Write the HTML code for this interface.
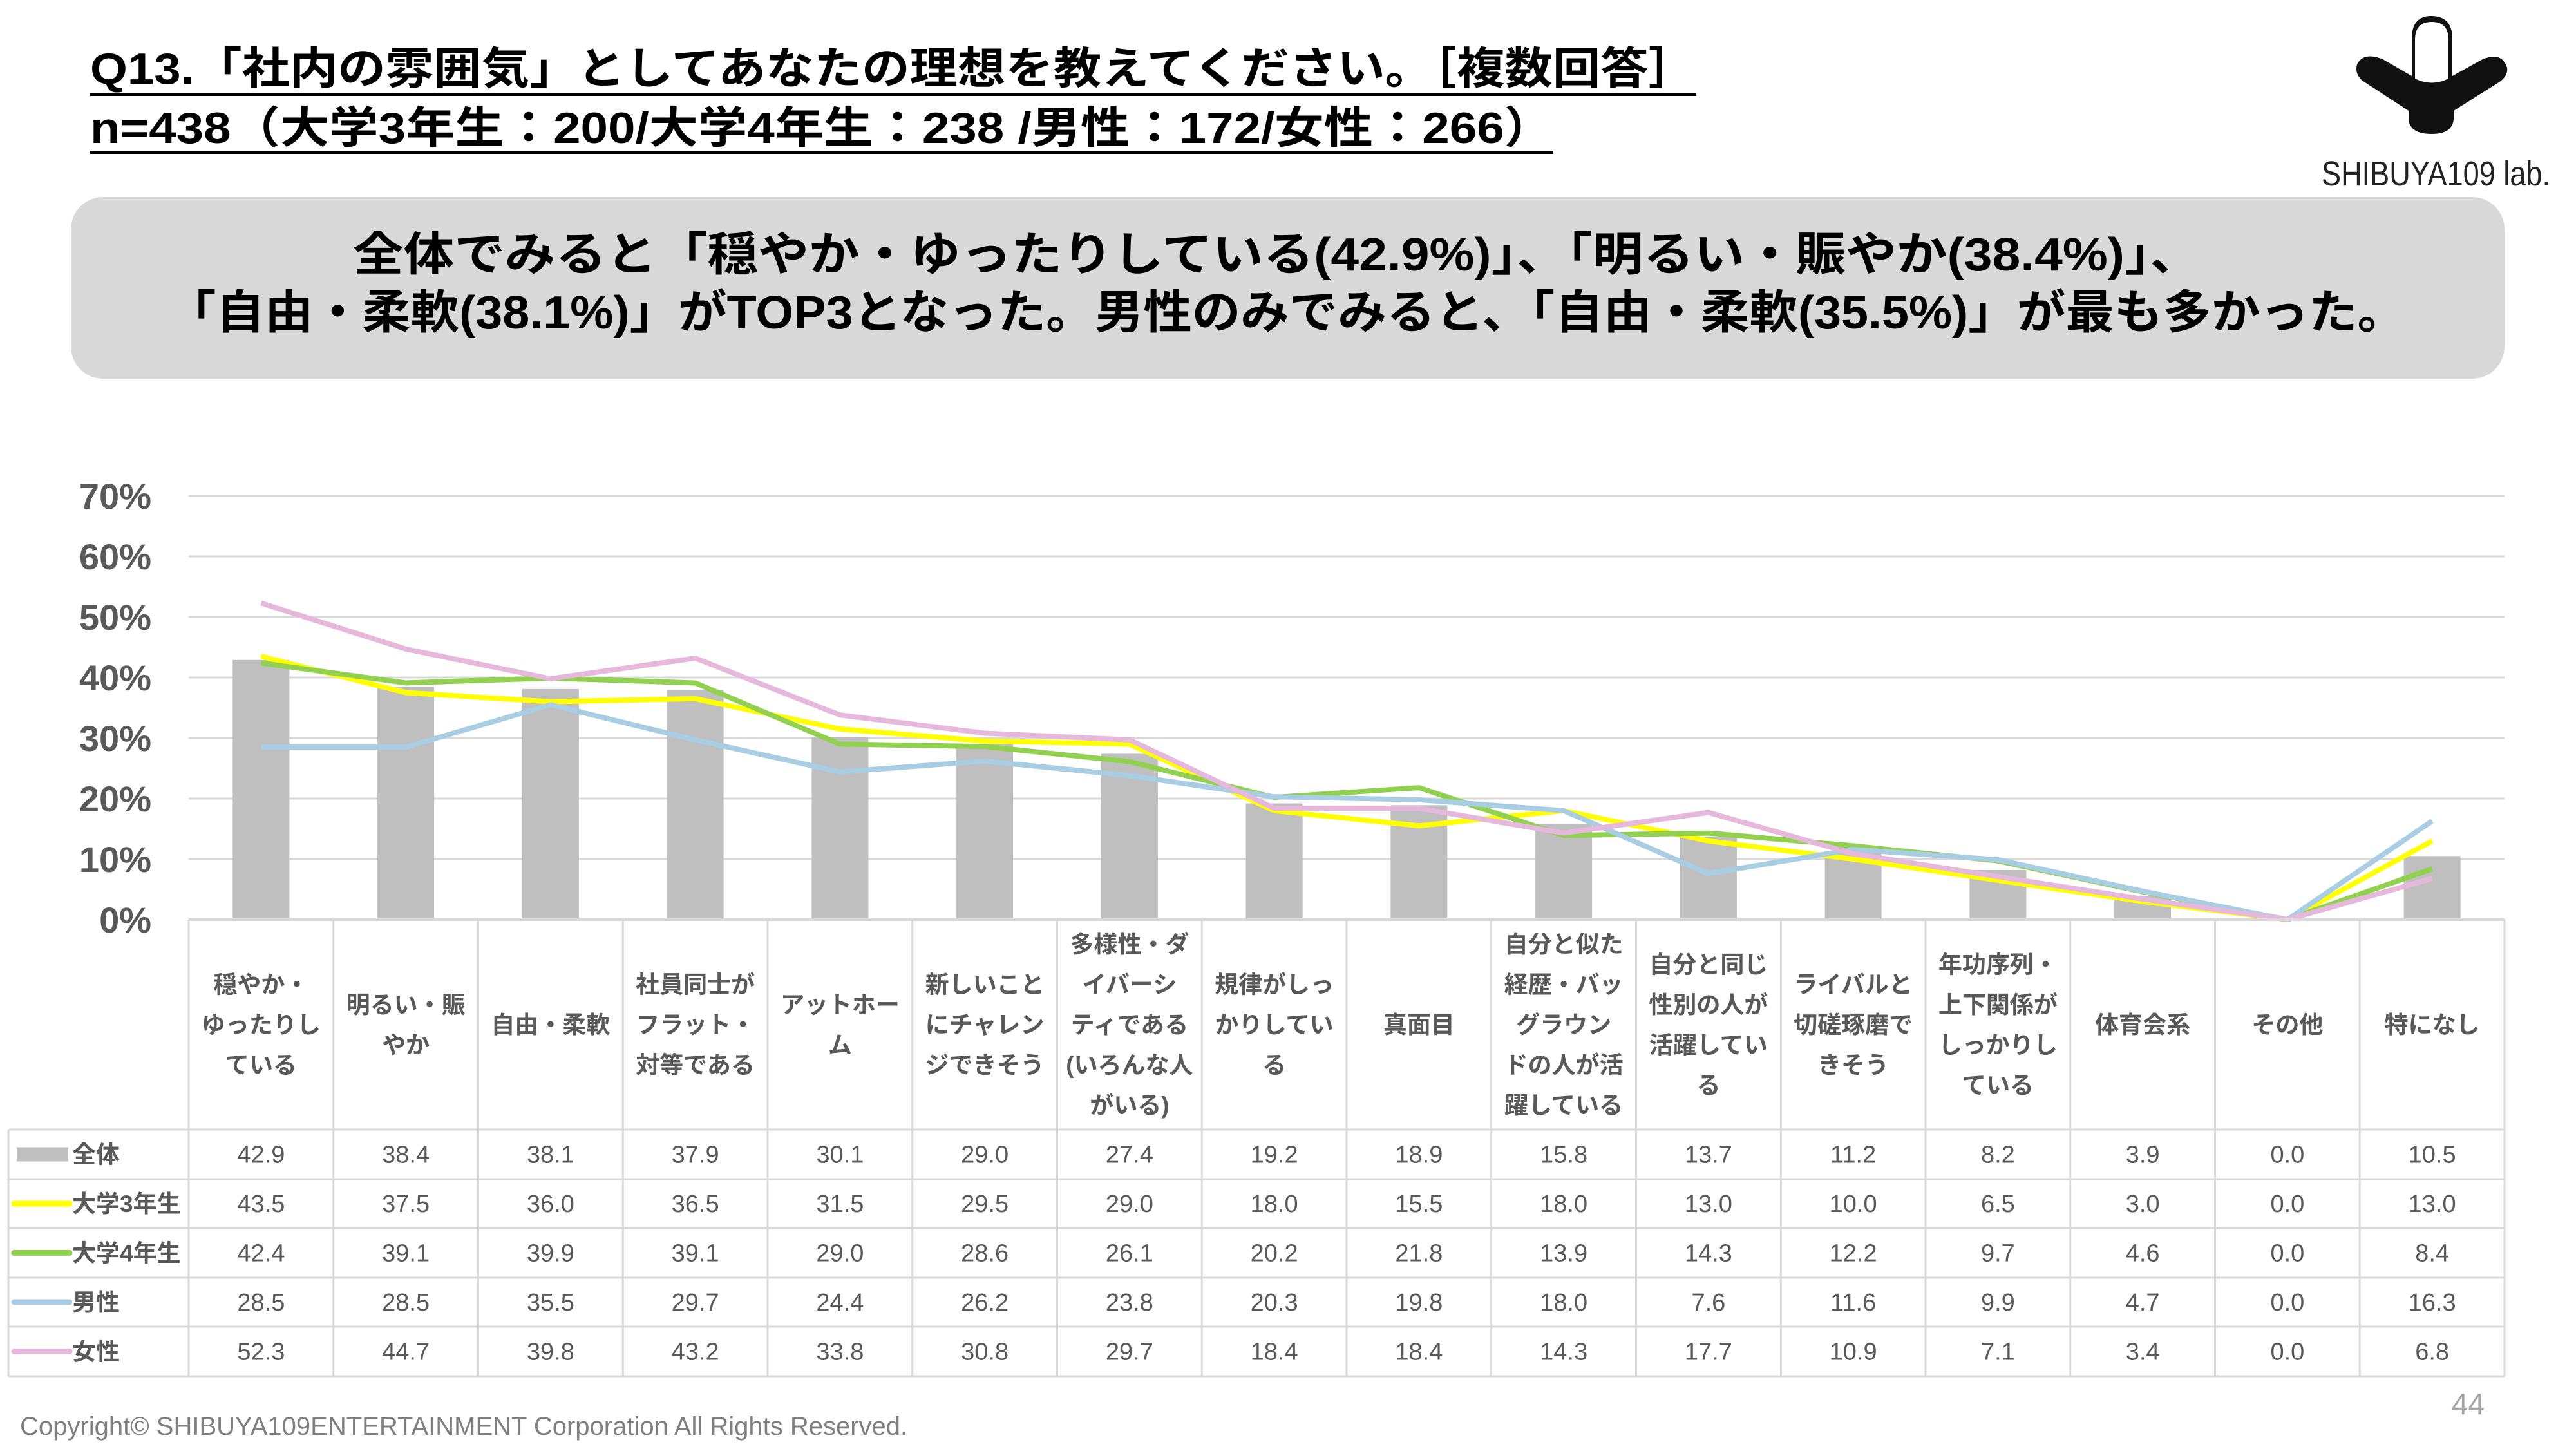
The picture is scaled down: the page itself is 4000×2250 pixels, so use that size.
<!DOCTYPE html>
<html><head><meta charset="utf-8"><style>
html,body{margin:0;padding:0;background:#fff}
svg{display:block}
text{font-family:"Liberation Sans","Noto Sans CJK JP",sans-serif}
</style></head><body>
<svg id="chart" width="4000" height="2250" viewBox="0 0 4000 2250" xmlns="http://www.w3.org/2000/svg">
<g>
<text x="140" y="130" font-size="68" font-weight="bold" fill="#000" textLength="2494" lengthAdjust="spacingAndGlyphs">Q13.「社内の雰囲気」としてあなたの理想を教えてください。［複数回答］</text>
<rect x="140" y="144" width="2494" height="5" fill="#000"/>
<text x="140" y="222" font-size="68" font-weight="bold" fill="#000" textLength="2272" lengthAdjust="spacingAndGlyphs">n=438（大学3年生：200/大学4年生：238 /男性：172/女性：266）</text>
<rect x="140" y="234" width="2272" height="5" fill="#000"/>
</g>
<g>
<path d="M3660 100 Q3670 80 3700 92 L3745 118 L3745 60 Q3745 25 3775 25 Q3808 25 3808 60 L3808 118 L3855 92 Q3885 80 3893 105 Q3895 118 3880 128 L3810 172 L3810 185 Q3808 208 3776 208 Q3742 208 3740 185 L3740 172 L3668 125 Q3656 114 3660 100 Z" fill="#111"/>
<path d="M3750 122 L3750 62 Q3750 34 3776 34 Q3802 34 3802 62 L3802 122 Q3776 135 3750 122 Z" fill="#fff"/>
<text x="3605" y="288" font-size="54" fill="#222" textLength="355" lengthAdjust="spacingAndGlyphs">SHIBUYA109 lab.</text>
</g>
<g>
<rect x="110" y="306" width="3779" height="282" rx="50" fill="#d9d9d9"/>
<text x="548" y="420" font-size="72" font-weight="bold" fill="#000" textLength="2869" lengthAdjust="spacingAndGlyphs">全体でみると「穏やか・ゆったりしている(42.9%)」、「明るい・賑やか(38.4%)」、</text>
<text x="260" y="510" font-size="72" font-weight="bold" fill="#000" textLength="3476" lengthAdjust="spacingAndGlyphs">「自由・柔軟(38.1%)」がTOP3となった。男性のみでみると、「自由・柔軟(35.5%)」が最も多かった。</text>
</g>
<g id="grid"></g>
<g id="yticks"></g>
<g id="bars"></g>
<g id="lines"></g>
<g id="table"></g>
<text x="31" y="2228" font-size="40" fill="#7f7f7f">Copyright© SHIBUYA109ENTERTAINMENT Corporation All Rights Reserved.</text>
<text x="3858" y="2196" font-size="46" fill="#a6a6a6" text-anchor="end">44</text>
</svg>
<script>
const categories=[["穏やか・","ゆったりし","ている"],["明るい・賑","やか"],["自由・柔軟"],["社員同士が","フラット・","対等である"],["アットホー","ム"],["新しいこと","にチャレン","ジできそう"],["多様性・ダ","イバーシ","ティである","(いろんな人","がいる)"],["規律がしっ","かりしてい","る"],["真面目"],["自分と似た","経歴・バッ","グラウン","ドの人が活","躍している"],["自分と同じ","性別の人が","活躍してい","る"],["ライバルと","切磋琢磨で","きそう"],["年功序列・","上下関係が","しっかりし","ている"],["体育会系"],["その他"],["特になし"]];
const seriesNames=["全体","大学3年生","大学4年生","男性","女性"];
const allValues=[42.9,38.4,38.1,37.9,30.1,29.0,27.4,19.2,18.9,15.8,13.7,11.2,8.2,3.9,0.0,10.5];
const y3Values=[43.5,37.5,36.0,36.5,31.5,29.5,29.0,18.0,15.5,18.0,13.0,10.0,6.5,3.0,0.0,13.0];
const y4Values=[42.4,39.1,39.9,39.1,29.0,28.6,26.1,20.2,21.8,13.9,14.3,12.2,9.7,4.6,0.0,8.4];
const maleValues=[28.5,28.5,35.5,29.7,24.4,26.2,23.8,20.3,19.8,18.0,7.6,11.6,9.9,4.7,0.0,16.3];
const femaleValues=[52.3,44.7,39.8,43.2,33.8,30.8,29.7,18.4,18.4,14.3,17.7,10.9,7.1,3.4,0.0,6.8];
const yTicks=[0,10,20,30,40,50,60,70];

const NS="http://www.w3.org/2000/svg";
const L=293,R=3889,Y0=1428,Y70=770;
const colW=(R-L)/categories.length;
const x=i=>L+colW*(i+0.5);
const y=v=>Y0-(v/70)*(Y0-Y70);
function mk(tag,attrs,parent,txt){const e=document.createElementNS(NS,tag);for(const k in attrs)e.setAttribute(k,attrs[k]);if(txt!==undefined)e.textContent=txt;parent.appendChild(e);return e;}
const grid=document.getElementById('grid'),yt=document.getElementById('yticks');
yTicks.forEach(t=>{
  if(t>0){const g=mk('line',{x1:L,x2:R,y1:y(t),y2:y(t),stroke:'#d9d9d9','stroke-width':3},grid);
  
  }
  const tx=mk('text',{x:235,y:y(t)+20,'font-size':56,'font-weight':'bold',fill:'#595959','text-anchor':'end'},yt,t+'%');
  
  
});
const bars=document.getElementById('bars');
allValues.forEach((v,i)=>{
  const b=mk('rect',{x:x(i)-44,y:y(v),width:88,height:Y0-y(v),fill:'#bfbfbf'},bars);
  
  
});
const lineSeries=[[y3Values,'#ffff00','line-year3'],[y4Values,'#92d050','line-year4'],[maleValues,'#a9cde3','line-male'],[femaleValues,'#e6b9dc','line-female']];
const lines=document.getElementById('lines');
lineSeries.forEach(([vals,c,n])=>{
  const p=mk('polyline',{points:vals.map((v,i)=>x(i)+','+y(v)).join(' '),fill:'none',stroke:c,'stroke-width':8,'stroke-linejoin':'round'},lines);
  
  
});
const tb=document.getElementById('table');
const rowsY=[1754,1831,1907,1984,2060,2137];
const bc='#d9d9d9';
mk('line',{x1:L,x2:R,y1:Y0,y2:Y0,stroke:bc,'stroke-width':4},tb);
for(let i=0;i<=categories.length;i++){mk('line',{x1:L+colW*i,x2:L+colW*i,y1:Y0,y2:rowsY[5],stroke:bc,'stroke-width':3},tb);}
rowsY.forEach(ry=>mk('line',{x1:13,x2:R,y1:ry,y2:ry,stroke:bc,'stroke-width':3},tb));
mk('line',{x1:13,x2:13,y1:rowsY[0],y2:rowsY[5],stroke:bc,'stroke-width':3},tb);
categories.forEach((lab,i)=>{
  const n=lab.length,cy=(Y0+rowsY[0])/2;
  lab.forEach((s,j)=>{
    const t=mk('text',{x:x(i),y:cy+(j-(n-1)/2)*62.5+13,'font-size':37,'font-weight':'bold',fill:'#595959','text-anchor':'middle'},tb,s);
    
    
  });
});
const allSeries=[allValues,y3Values,y4Values,maleValues,femaleValues];
const legendColors=['#bfbfbf','#ffff00','#92d050','#a9cde3','#e6b9dc'];
allSeries.forEach((vals,r)=>{
  const cy=(rowsY[r]+rowsY[r+1])/2;
  if(r===0){const k=mk('rect',{x:26,y:cy-11,width:80,height:22,fill:legendColors[r]},tb);
    
    }
  else{const k=mk('line',{x1:22,x2:108,y1:cy,y2:cy,stroke:legendColors[r],'stroke-width':9,'stroke-linecap':'round'},tb);
    
    }
  const lt=mk('text',{x:112,y:cy+13,'font-size':37,'font-weight':'bold',fill:'#595959'},tb,seriesNames[r]);
  
  
  vals.forEach((v,i)=>{
    const t=mk('text',{x:x(i),y:cy+13,'font-size':38,fill:'#595959','text-anchor':'middle'},tb,v.toFixed(1));
    
    
  });
});
</script>
</body></html>
